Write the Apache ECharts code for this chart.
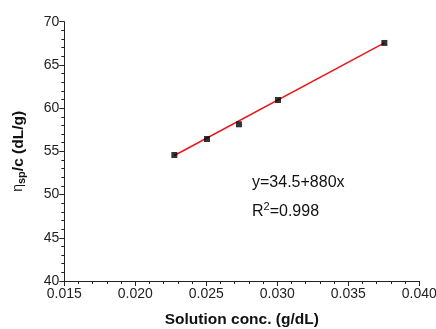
<!DOCTYPE html>
<html>
<head>
<meta charset="utf-8">
<script src="https://cdn.jsdelivr.net/npm/echarts@6/dist/echarts.min.js"></script>
<style>html,body{margin:0;padding:0;background:#fff}#c{width:436px;height:329px}</style>
</head>
<body>
<div id="c"></div>
<script>
const concX = [0.02275, 0.02505, 0.0273, 0.03005, 0.03754];
const etaY = [54.58, 56.43, 58.13, 60.94, 67.54];
const fitX = [0.02275, 0.03754];
const fitY = [54.52, 67.54];
const xTicks = ['0.015', '0.020', '0.025', '0.030', '0.035', '0.040'];
const yTicks = ['40', '45', '50', '55', '60', '65', '70'];
const equationText = 'y=34.5+880x';
const r2Text = '{n|R}{p|2}{n|=0.998}';

const FONT = 'Liberation Sans, Arial, sans-serif';
const chart = echarts.init(document.getElementById('c'), null, {renderer: 'canvas'});
chart.setOption({
  animation: false,
  grid: {left: 64.3, right: 16.7, top: 21.7, bottom: 48, containLabel: false, outerBoundsMode: 'none'},
  xAxis: {
    type: 'value', min: 0.015, max: 0.040, interval: 0.005,
    name: 'Solution conc. (g/dL)', nameLocation: 'middle', nameGap: 31,
    nameTextStyle: {fontFamily: FONT, fontSize: 15.5, fontWeight: 'bold', color: '#111'},
    axisLine: {show: true, lineStyle: {color: '#222', width: 1}},
    axisTick: {show: true, length: 5, lineStyle: {color: '#222'}},
    minorTick: {show: true, splitNumber: 5, length: 3, lineStyle: {color: '#222'}},
    splitLine: {show: false},
    axisLabel: {fontFamily: FONT, fontSize: 14, color: '#222', margin: 6,
      formatter: v => { const s = v.toFixed(3); return xTicks.includes(s) ? s : ''; }}
  },
  yAxis: {
    type: 'value', min: 40, max: 70, interval: 5,
    name: '{e|\u03B7}{s|sp}{a|/c (dL/g)}', nameLocation: 'middle', nameGap: 37, nameRotate: 90,
    nameTextStyle: {fontFamily: FONT, color: '#111',
      rich: {
        e: {fontFamily: FONT, fontSize: 14, color: '#111'},
        s: {fontFamily: FONT, fontSize: 11, fontWeight: 'bold', color: '#111', verticalAlign: 'bottom', padding: [7, 0, 0, 0]},
        a: {fontFamily: FONT, fontSize: 15.5, fontWeight: 'bold', color: '#111'}
      }},
    axisLine: {show: true, lineStyle: {color: '#222', width: 1}},
    axisTick: {show: true, length: 5, lineStyle: {color: '#222'}},
    minorTick: {show: true, splitNumber: 5, length: 3, lineStyle: {color: '#222'}},
    splitLine: {show: false},
    axisLabel: {fontFamily: FONT, fontSize: 14, color: '#222', margin: 5,
      formatter: v => { const s = String(Math.round(v)); return yTicks.includes(s) ? s : ''; }}
  },
  series: [
    {type: 'line', data: fitX.map((x, i) => [x, fitY[i]]), showSymbol: false, symbol: 'none',
      lineStyle: {color: '#e8191c', width: 1.5}, z: 2},
    {type: 'scatter', data: concX.map((x, i) => [x, etaY[i]]), symbol: 'rect', symbolSize: 6,
      itemStyle: {color: '#000'}, z: 3}
  ],
  graphic: [
    {type: 'text', left: 252, top: 175, style: {text: equationText, fontFamily: FONT, fontSize: 16, fill: '#111'}},
    {type: 'text', left: 252, top: 201, style: {text: r2Text, fontFamily: FONT, fontSize: 16, fill: '#111',
      rich: {
        n: {fontFamily: FONT, fontSize: 16, color: '#111', lineHeight: 22},
        p: {fontFamily: FONT, fontSize: 11, color: '#111', verticalAlign: 'top', lineHeight: 22, padding: [0, 0, 6, 0]}
      }}}
  ]
});
</script>
</body>
</html>
